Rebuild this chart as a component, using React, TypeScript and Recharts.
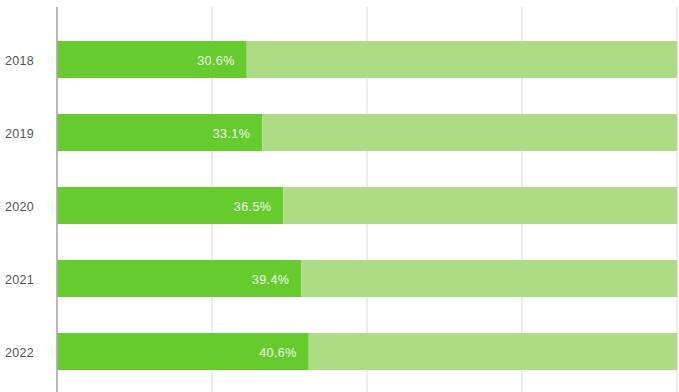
import React from "react";
import { BarChart, Bar, XAxis, YAxis, CartesianGrid, LabelList } from "recharts";

const years = ["2018", "2019", "2020", "2021", "2022"];
const shares = [30.6, 33.1, 36.5, 39.4, 40.6];
const xTicks = [0, 25, 50, 75, 100];

const data = years.map((y, i) => ({ year: y, share: shares[i], rest: 100 - shares[i] }));

export default function App() {
  return (
    <div style={{ position: "absolute", left: 0, top: 0, fontFamily: "'Liberation Sans', Arial, sans-serif" }}>
      <BarChart
        width={679}
        height={392}
        data={data}
        layout="vertical"
        margin={{ top: 7, right: 2, bottom: 0, left: 0 }}
        barSize={37}
      >
        <CartesianGrid horizontal={false} stroke="#e6e6e6" strokeWidth={1.5} />
        <XAxis type="number" domain={[0, 100]} ticks={xTicks} hide />
        <YAxis
          type="category"
          dataKey="year"
          width={57}
          tickLine={false}
          tickSize={0}
          tickMargin={23}
          padding={{ top: 16, bottom: 4 }}
          axisLine={{ stroke: "#a8a8a8", strokeWidth: 1.5 }}
          tick={{ fill: "#555555", fontSize: 12.5, dy: 1, letterSpacing: 0.3 }}
        />
        <Bar dataKey="share" stackId="a" fill="#66cc2e" isAnimationActive={false}>
          <LabelList
            dataKey="share"
            position="insideRight"
            offset={12}
            formatter={(v: any) => `${Number(v).toFixed(1)}%`}
            style={{ fill: "#f2f7ee", fontSize: 12.5, letterSpacing: 0.4 }}
            dy={1}
          />
        </Bar>
        <Bar dataKey="rest" stackId="a" fill="#addc85" isAnimationActive={false} />
      </BarChart>
    </div>
  );
}
